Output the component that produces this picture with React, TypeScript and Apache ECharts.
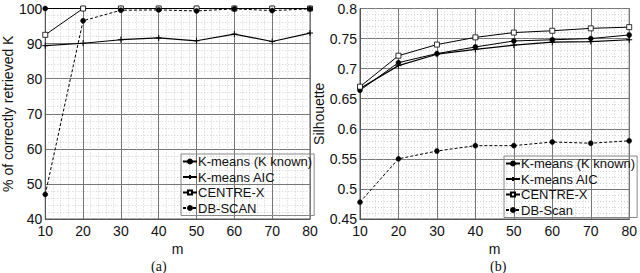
import React, { useEffect, useRef } from "react";
import * as echarts from "echarts";

const mValues = [10, 20, 30, 40, 50, 60, 70, 80];

// (a) % of correctly retrieved K
const aKnown = [100, 100, 100, 100, 100, 100, 100, 100];
const aAIC = [89.4, 90.1, 91.1, 91.6, 90.8, 92.7, 90.6, 93.0];
const aCentre = [92.5, 100, 100, 100, 100, 100, 100, 100];
const aDB = [47, 96.5, 99.5, 99.6, 99.3, 99.9, 99.4, 99.9];

// (b) Silhouette
const bKnown = [0.664, 0.710, 0.725, 0.736, 0.746, 0.748, 0.750, 0.756];
const bAIC = [0.667, 0.705, 0.724, 0.732, 0.739, 0.744, 0.745, 0.748];
const bCentre = [0.670, 0.7215, 0.740, 0.752, 0.760, 0.763, 0.767, 0.769];
const bDB = [0.478, 0.550, 0.563, 0.572, 0.572, 0.578, 0.576, 0.580];

const namesA = ["K-means (K known)", "K-means AIC", "CENTRE-X", "DB-SCAN"];
const namesB = ["K-means (K known)", "K-means AIC", "CENTRE-X", "DB-Scan"];

const FONT = "Liberation Sans";
const FS = 14;
const PLUS = "path://M0,5L10,5M5,0L5,10";

const pair = (ys: number[]) => mValues.map((x, i) => [x, ys[i]]);

function makeSeries(idx: number, names: string[], k: number[], a: number[], c: number[], d: number[]) {
  const base = { type: "line", xAxisIndex: idx, yAxisIndex: idx, z: 3 };
  return [
    {
      ...base, name: names[0], data: pair(k),
      symbol: "circle", symbolSize: 5,
      lineStyle: { color: "#000", width: 1 },
      itemStyle: { color: "#000", borderColor: "#000", borderWidth: 0.5 },
    },
    {
      ...base, name: names[1], data: pair(a),
      symbol: PLUS, symbolSize: 6,
      lineStyle: { color: "#000", width: 1.2 },
      itemStyle: { color: "#000", borderColor: "#000", borderWidth: 1 },
    },
    {
      ...base, name: names[2], data: pair(c),
      symbol: "rect", symbolSize: 5,
      lineStyle: { color: "#000", width: 1 },
      itemStyle: { color: "#fff", borderColor: "#000", borderWidth: 0.8 },
    },
    {
      ...base, name: names[3], data: pair(d),
      symbol: "circle", symbolSize: 5,
      lineStyle: { color: "#000", width: 1, type: [3, 2] },
      itemStyle: { color: "#000", borderColor: "#000", borderWidth: 0.5 },
    },
  ];
}

const axisCommon = {
  axisLine: { show: true, lineStyle: { color: "#555", width: 1 } },
  axisTick: { show: false },
  splitLine: { show: true, lineStyle: { color: "#777", width: 1 } },
  minorTick: { show: false, splitNumber: 5 },
  minorSplitLine: { show: true, lineStyle: { color: "#c4c4c4", width: 0.8, type: [1, 2] } },
  axisLabel: { color: "#111", fontFamily: FONT, fontSize: FS, margin: 3, lineHeight: 13 },
  nameTextStyle: { color: "#111", fontFamily: FONT, fontSize: FS },
};

const legendCommon = {
  orient: "vertical", itemGap: 2.5,
  itemWidth: 14, itemHeight: 5, padding: [1, 2, 1, 1],
  borderColor: "#888", borderWidth: 1, backgroundColor: "transparent",
  textStyle: { fontFamily: FONT, fontSize: 13, color: "#111", padding: [0, 0, 0, -4] },
  selectedMode: false,
};

export default function App() {
  const ref = useRef<HTMLDivElement>(null);
  useEffect(() => {
    if (!ref.current) return;
    const chart = echarts.init(ref.current, null, { renderer: "svg" });
    chart.setOption({
      animation: false,
      backgroundColor: "#fff",
      grid: [
        { left: 35, top: 3, width: 275, height: 216, show: true, borderColor: "#555", borderWidth: 1, backgroundColor: "transparent" },
        { left: 360, top: 5, width: 273, height: 214, show: true, borderColor: "#555", borderWidth: 1, backgroundColor: "transparent" },
      ],
      xAxis: [0, 1].map((i) => ({
        ...axisCommon,
        type: "value", gridIndex: i, min: 10, max: 80, interval: 10,
        name: "m", nameLocation: "middle", nameGap: 21,
        axisLabel: { ...axisCommon.axisLabel, margin: 5 },
      })),
      yAxis: [
        {
          ...axisCommon, type: "value", gridIndex: 0, min: 40, max: 100, interval: 10,
          name: "% of correctly retrieved K", nameLocation: "middle", nameGap: 26,
          axisLabel: { ...axisCommon.axisLabel, padding: [0, 0, 4, 0] },
        },
        {
          ...axisCommon, type: "value", gridIndex: 1, min: 0.45, max: 0.8, interval: 0.05,
          name: "Silhouette", nameLocation: "middle", nameGap: 28,
          axisLabel: { ...axisCommon.axisLabel, padding: [0, 0, 4, 0], formatter: (v: number) => String(+v.toFixed(2)) },
        },
      ],
      legend: [
        { ...legendCommon, data: namesA, left: 181, top: 154 },
        { ...legendCommon, data: namesB, left: 504, top: 156 },
      ],
      series: [
        ...makeSeries(0, namesA, aKnown, aAIC, aCentre, aDB),
        ...makeSeries(1, namesB, bKnown, bAIC, bCentre, bDB),
      ],
      graphic: [
        { type: "text", left: 151, top: 259, style: { text: "(a)", font: "14px 'Liberation Serif'", fill: "#111" } },
        { type: "text", left: 490, top: 259, style: { text: "(b)", font: "14px 'Liberation Serif'", fill: "#111" } },
      ],
    });
    return () => chart.dispose();
  }, []);
  return <div ref={ref} style={{ width: 640, height: 273, position: "absolute", left: 0, top: 0 }} />;
}
